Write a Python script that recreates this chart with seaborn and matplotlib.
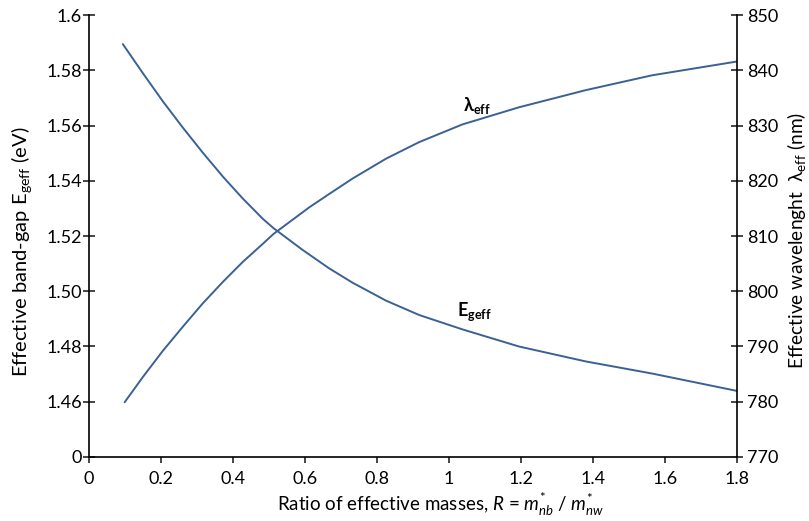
import numpy as np
import pandas as pd
import matplotlib
matplotlib.use("Agg")
import matplotlib.pyplot as plt
import seaborn as sns

# ---- data ----
ratio_e = [0.094, 0.150, 0.205, 0.261, 0.316, 0.372, 0.427, 0.483, 0.513,
           0.593, 0.667, 0.732, 0.825, 0.917, 1.037, 1.194, 1.379, 1.564, 1.80]
egeff = [1.5895, 1.5789, 1.5688, 1.5592, 1.5502, 1.5415, 1.5336, 1.5262, 1.5228,
         1.5150, 1.5083, 1.5031, 1.4966, 1.4914, 1.4862, 1.4800, 1.4746, 1.4702, 1.4639]

ratio_l = [0.099, 0.150, 0.205, 0.261, 0.316, 0.372, 0.427, 0.483, 0.513,
           0.612, 0.667, 0.732, 0.825, 0.917, 1.037, 1.194, 1.379, 1.564, 1.80]
lambda_eff = [779.9, 784.5, 789.2, 793.6, 797.8, 801.7, 805.3, 808.6, 810.4,
              815.2, 817.6, 820.4, 824.0, 827.0, 830.2, 833.3, 836.4, 839.1, 841.6]

x_ticks = [0, 0.2, 0.4, 0.6, 0.8, 1.0, 1.2, 1.4, 1.6, 1.8]
x_tick_labels = ["0", "0.2", "0.4", "0.6", "0.8", "1", "1.2", "1.4", "1.6", "1.8"]
left_ticks = [1.44, 1.46, 1.48, 1.50, 1.52, 1.54, 1.56, 1.58, 1.60]
left_tick_labels = ["0", "1.46", "1.48", "1.50", "1.52", "1.54", "1.56", "1.58", "1.6"]
right_ticks = [770, 780, 790, 800, 810, 820, 830, 840, 850]
right_tick_labels = ["770", "780", "790", "800", "810", "820", "830", "840", "850"]

sns.set_theme(style="white")
plt.rcParams["font.family"] = ["Lato", "DejaVu Sans"]
plt.rcParams["mathtext.fontset"] = "custom"
plt.rcParams["mathtext.rm"] = "Lato"
plt.rcParams["mathtext.it"] = "Lato:italic"
plt.rcParams["mathtext.bf"] = "Lato:bold"

line_color = "#3b6194"
fs_tick = 13
fs_ylabel = 14.5
fs_xlabel = 13.5

fig = plt.figure(figsize=(8.09, 5.21), dpi=100)
ax = fig.add_axes([0.110, 0.123, 0.801, 0.848])

df_e = pd.DataFrame({"R": ratio_e, "E": egeff})
df_l = pd.DataFrame({"R": ratio_l, "L": lambda_eff})

sns.lineplot(data=df_e, x="R", y="E", ax=ax, color=line_color, lw=1.4)
ax.set_xlim(0, 1.8)
ax.set_ylim(1.44, 1.6)

ax2 = ax.twinx()
sns.lineplot(data=df_l, x="R", y="L", ax=ax2, color=line_color, lw=1.4)
ax2.set_ylim(770, 850)

ax.set_xticks(x_ticks)
ax.set_xticklabels(x_tick_labels, fontsize=fs_tick, color="black")
ax.set_yticks(left_ticks)
ax.set_yticklabels(left_tick_labels, fontsize=fs_tick, color="black")
ax2.set_yticks(right_ticks)
ax2.set_yticklabels(right_tick_labels, fontsize=fs_tick, color="black")

for a in (ax, ax2):
    a.spines["top"].set_visible(False)
    for s in a.spines.values():
        s.set_color("black")
        s.set_linewidth(1.2)
    a.grid(False)
    a.set_xlabel("")
    a.set_ylabel("")
ax.spines["right"].set_visible(False)
ax2.spines["left"].set_visible(False)
ax2.spines["bottom"].set_visible(False)

ax.tick_params(axis="y", direction="inout", length=8, width=1.2, pad=1, left=True)
ax.tick_params(axis="x", direction="out", length=4, width=1.2, pad=6, bottom=True)
ax2.tick_params(axis="y", direction="inout", length=8, width=1.2, pad=3, right=True)

fig.text(441 / 809, 1 - 505 / 521,
         r"Ratio of effective masses, $\mathit{R}$ = $\mathit{m}^{*}_{\mathit{nb}}$ / $\mathit{m}^{*}_{\mathit{nw}}$",
         fontsize=fs_xlabel, color="black", ha="center", va="center")
fig.text(22 / 809, 1 - 252 / 521, r"Effective band-gap E$\mathregular{_{geff}}$ (eV)",
         fontsize=fs_ylabel, color="black", rotation=90, ha="center", va="center")
fig.text(797 / 809, 1 - 240 / 521, r"Effective wavelenght  λ$\mathregular{_{eff}}$ (nm)",
         fontsize=13.8, color="black", rotation=90, ha="center", va="center")

ax2.text(1.078, 833.7, r"λ$\mathregular{_{eff}}$", fontsize=13, ha="center",
         va="center", color="black", fontweight="bold")
ax.text(1.072, 1.4925, r"E$\mathregular{_{geff}}$", fontsize=13, ha="center",
        va="center", color="black", fontweight="bold")

fig.savefig("out.png", dpi=100)
